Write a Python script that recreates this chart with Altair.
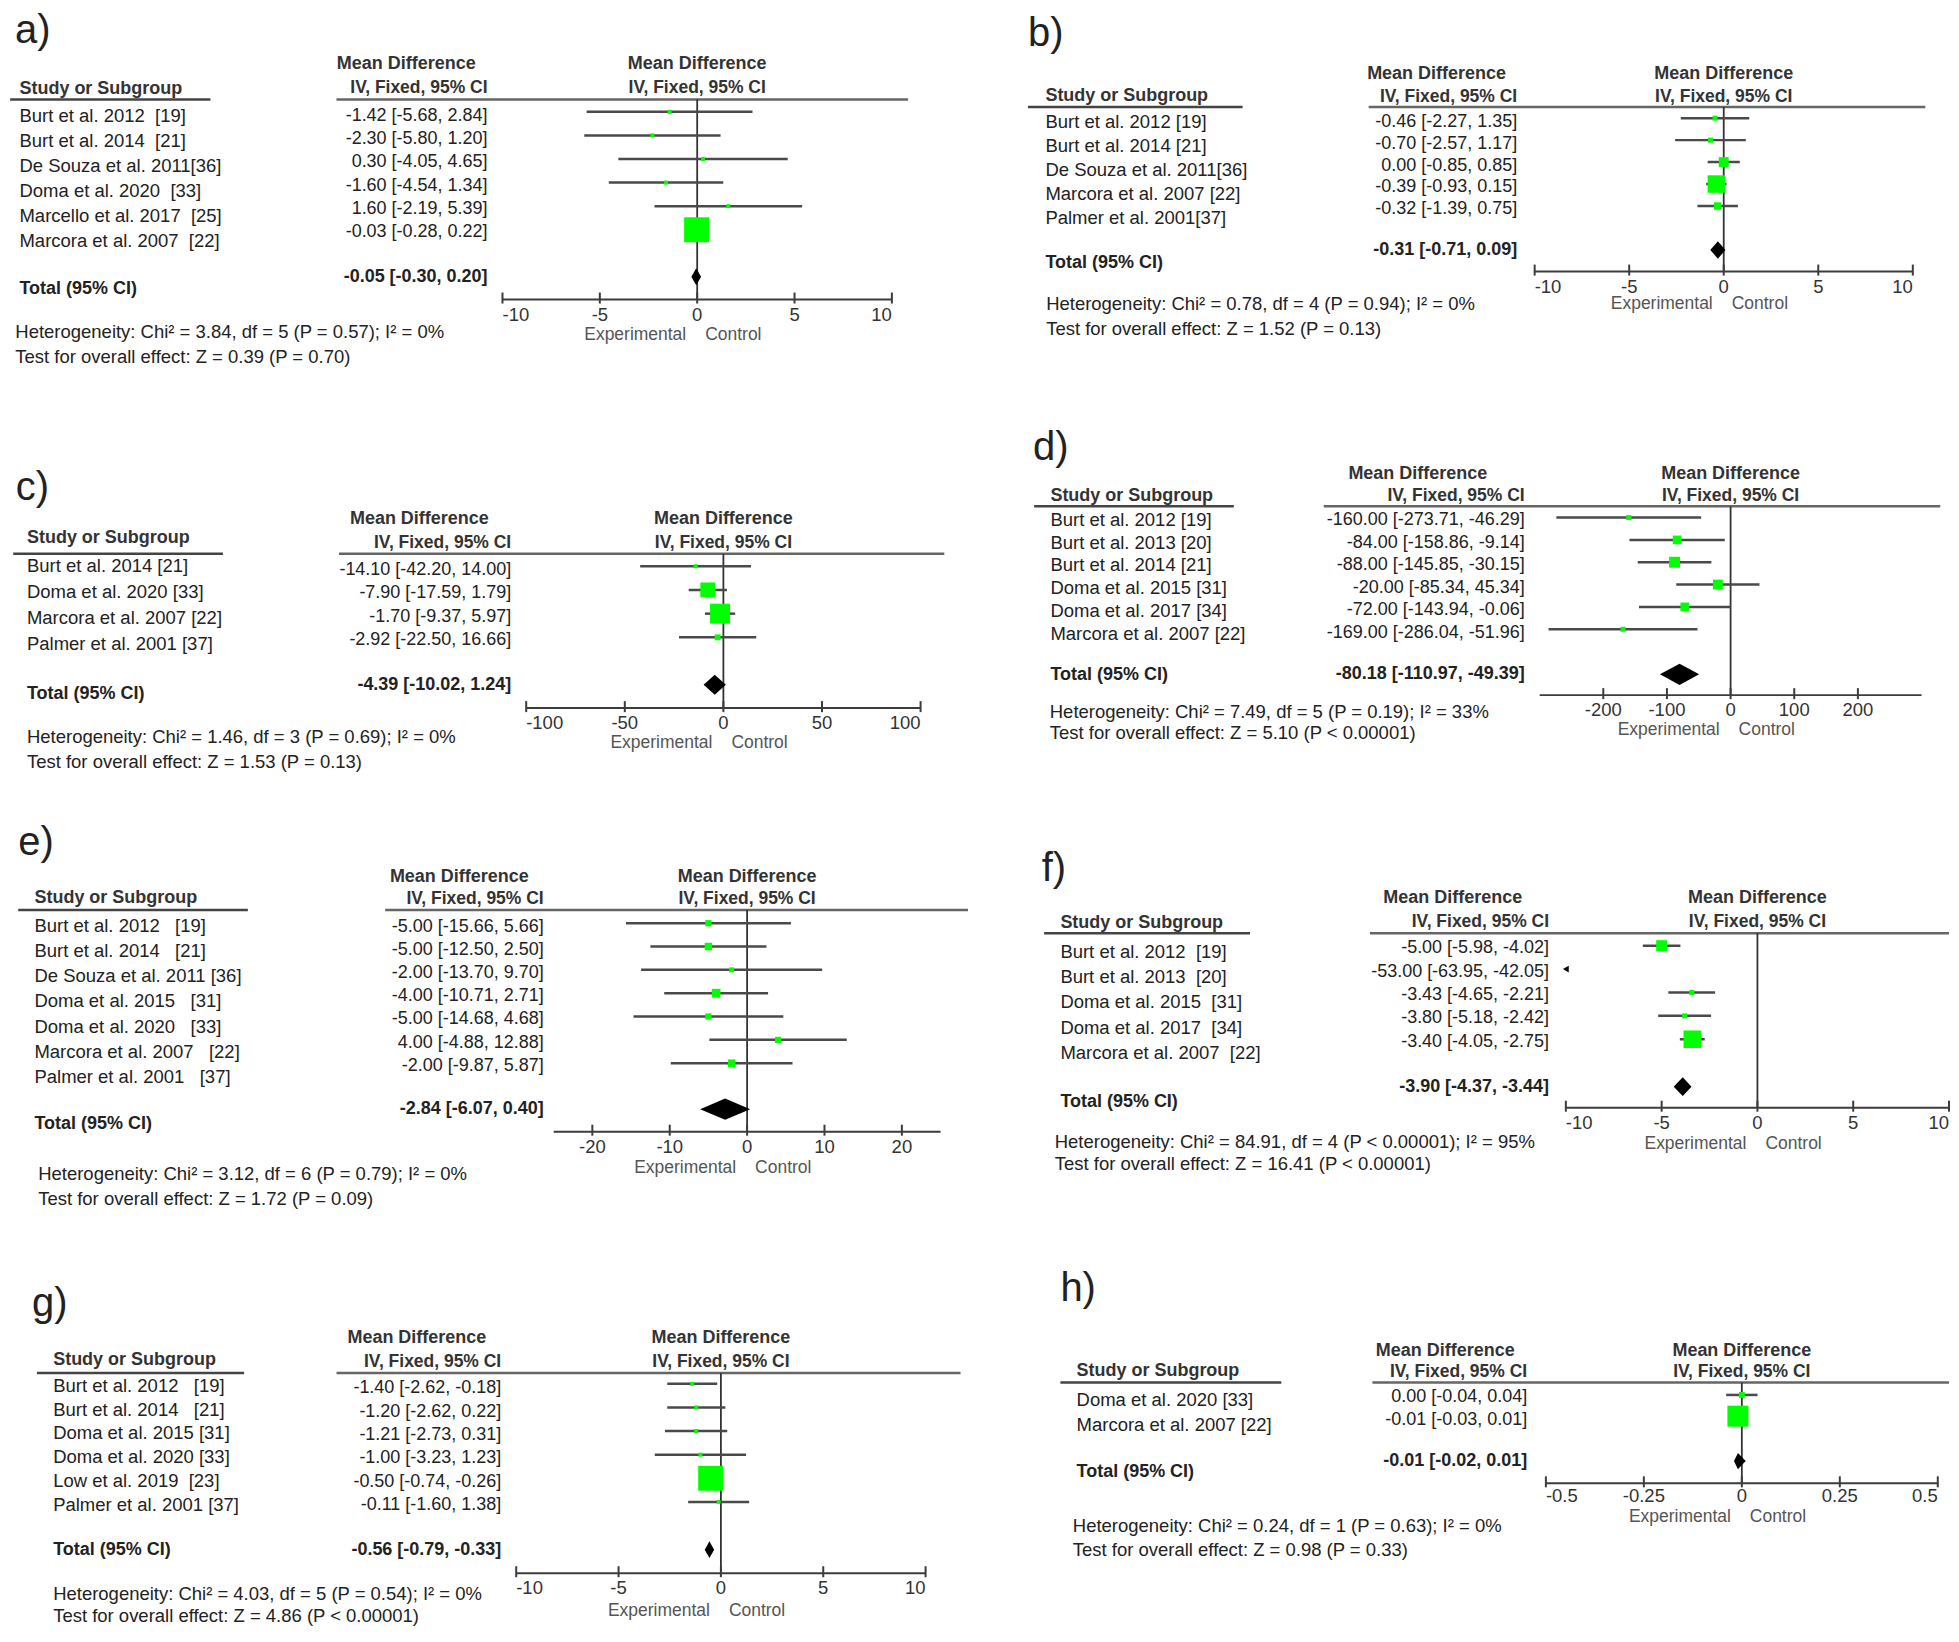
import altair as alt
import pandas as pd

S = 1959 / 1568.0          # reference thumbnail units -> page pixels
FONT = "Liberation Sans, Arial, Helvetica, sans-serif"
TXT = "#222222"
HDR = "#333333"

# ----------------------------- data -----------------------------
a_names = ["Burt et al. 2012  [19]", "Burt et al. 2014  [21]", "De Souza et al. 2011[36]",
           "Doma et al. 2020  [33]", "Marcello et al. 2017  [25]", "Marcora et al. 2007  [22]"]
a_md = [-1.42, -2.30, 0.30, -1.60, 1.60, -0.03]
a_lo = [-5.68, -5.80, -4.05, -4.54, -2.19, -0.28]
a_hi = [2.84, 1.20, 4.65, 1.34, 5.39, 0.22]
a_wt = [2.3, 2.3, 2.3, 2.3, 2.3, 89]
a_total = [-0.05, -0.30, 0.20]
a_het = "Heterogeneity: Chi² = 3.84, df = 5 (P = 0.57); I² = 0%"
a_test = "Test for overall effect: Z = 0.39 (P = 0.70)"
a_ticks = [-10, -5, 0, 5, 10]
a_domain = [-10, 10]

b_names = ["Burt et al. 2012 [19]", "Burt et al. 2014 [21]", "De Souza et al. 2011[36]",
           "Marcora et al. 2007 [22]", "Palmer et al. 2001[37]"]
b_md = [-0.46, -0.70, 0.00, -0.39, -0.32]
b_lo = [-2.27, -2.57, -0.85, -0.93, -1.39]
b_hi = [1.35, 1.17, 0.85, 0.15, 0.75]
b_wt = [3.6, 3.6, 14, 44, 8]
b_total = [-0.31, -0.71, 0.09]
b_het = "Heterogeneity: Chi² = 0.78, df = 4 (P = 0.94); I² = 0%"
b_test = "Test for overall effect: Z = 1.52 (P = 0.13)"
b_ticks = [-10, -5, 0, 5, 10]
b_domain = [-10, 10]

c_names = ["Burt et al. 2014 [21]", "Doma et al. 2020 [33]", "Marcora et al. 2007 [22]",
           "Palmer et al. 2001 [37]"]
c_md = [-14.10, -7.90, -1.70, -2.92]
c_lo = [-42.20, -17.59, -9.37, -22.50]
c_hi = [14.00, 1.79, 5.97, 16.66]
c_wt = [2.3, 32, 57, 5]
c_total = [-4.39, -10.02, 1.24]
c_het = "Heterogeneity: Chi² = 1.46, df = 3 (P = 0.69); I² = 0%"
c_test = "Test for overall effect: Z = 1.53 (P = 0.13)"
c_ticks = [-100, -50, 0, 50, 100]
c_domain = [-100, 100]

d_names = ["Burt et al. 2012 [19]", "Burt et al. 2013 [20]", "Burt et al. 2014 [21]",
           "Doma et al. 2015 [31]", "Doma et al. 2017 [34]", "Marcora et al. 2007 [22]"]
d_md = [-160.00, -84.00, -88.00, -20.00, -72.00, -169.00]
d_lo = [-273.71, -158.86, -145.85, -85.34, -143.94, -286.04]
d_hi = [-46.29, -9.14, -30.15, 45.34, -0.06, -51.96]
d_wt = [3.6, 10.8, 17, 14, 10.8, 3.6]
d_total = [-80.18, -110.97, -49.39]
d_het = "Heterogeneity: Chi² = 7.49, df = 5 (P = 0.19); I² = 33%"
d_test = "Test for overall effect: Z = 5.10 (P < 0.00001)"
d_ticks = [-200, -100, 0, 100, 200]
d_domain = [-300, 300]

e_names = ["Burt et al. 2012   [19]", "Burt et al. 2014   [21]", "De Souza et al. 2011 [36]",
           "Doma et al. 2015   [31]", "Doma et al. 2020   [33]", "Marcora et al. 2007   [22]",
           "Palmer et al. 2001   [37]"]
e_md = [-5.00, -5.00, -2.00, -4.00, -5.00, 4.00, -2.00]
e_lo = [-15.66, -12.50, -13.70, -10.71, -14.68, -4.88, -9.87]
e_hi = [5.66, 2.50, 9.70, 2.71, 4.68, 12.88, 5.87]
e_wt = [5.5, 8, 3.6, 10.8, 5.5, 5.5, 8]
e_total = [-2.84, -6.07, 0.40]
e_het = "Heterogeneity: Chi² = 3.12, df = 6 (P = 0.79); I² = 0%"
e_test = "Test for overall effect: Z = 1.72 (P = 0.09)"
e_ticks = [-20, -10, 0, 10, 20]
e_domain = [-25, 25]

f_names = ["Burt et al. 2012  [19]", "Burt et al. 2013  [20]", "Doma et al. 2015  [31]",
           "Doma et al. 2017  [34]", "Marcora et al. 2007  [22]"]
f_md = [-5.00, -53.00, -3.43, -3.80, -3.40]
f_lo = [-5.98, -63.95, -4.65, -5.18, -4.05]
f_hi = [-4.02, -42.05, -2.21, -2.42, -2.75]
f_wt = [17, 0.2, 3.6, 3.6, 44]
f_total = [-3.90, -4.37, -3.44]
f_het = "Heterogeneity: Chi² = 84.91, df = 4 (P < 0.00001); I² = 95%"
f_test = "Test for overall effect: Z = 16.41 (P < 0.00001)"
f_ticks = [-10, -5, 0, 5, 10]
f_domain = [-10, 10]

g_names = ["Burt et al. 2012   [19]", "Burt et al. 2014   [21]", "Doma et al. 2015 [31]",
           "Doma et al. 2020 [33]", "Low et al. 2019  [23]", "Palmer et al. 2001 [37]"]
g_md = [-1.40, -1.20, -1.21, -1.00, -0.50, -0.11]
g_lo = [-2.62, -2.62, -2.73, -3.23, -0.74, -1.60]
g_hi = [-0.18, 0.22, 0.31, 1.23, -0.26, 1.38]
g_wt = [2.3, 2.3, 2.3, 2.3, 89, 2.0]
g_total = [-0.56, -0.79, -0.33]
g_het = "Heterogeneity: Chi² = 4.03, df = 5 (P = 0.54); I² = 0%"
g_test = "Test for overall effect: Z = 4.86 (P < 0.00001)"
g_ticks = [-10, -5, 0, 5, 10]
g_domain = [-10, 10]

h_names = ["Doma et al. 2020 [33]", "Marcora et al. 2007 [22]"]
h_md = [0.00, -0.01]
h_lo = [-0.04, -0.03]
h_hi = [0.04, 0.01]
h_wt = [5, 63]
h_total = [-0.01, -0.02, 0.01]
h_het = "Heterogeneity: Chi² = 0.24, df = 1 (P = 0.63); I² = 0%"
h_test = "Test for overall effect: Z = 0.98 (P = 0.33)"
h_ticks = [-0.5, -0.25, 0, 0.25, 0.5]
h_domain = [-0.5, 0.5]

PANELS = {
    "a": dict(names=a_names, md=a_md, lo=a_lo, hi=a_hi, w=a_wt, total=a_total, het=a_het, test=a_test, ticks=a_ticks, domain=a_domain),
    "b": dict(names=b_names, md=b_md, lo=b_lo, hi=b_hi, w=b_wt, total=b_total, het=b_het, test=b_test, ticks=b_ticks, domain=b_domain),
    "c": dict(names=c_names, md=c_md, lo=c_lo, hi=c_hi, w=c_wt, total=c_total, het=c_het, test=c_test, ticks=c_ticks, domain=c_domain),
    "d": dict(names=d_names, md=d_md, lo=d_lo, hi=d_hi, w=d_wt, total=d_total, het=d_het, test=d_test, ticks=d_ticks, domain=d_domain),
    "e": dict(names=e_names, md=e_md, lo=e_lo, hi=e_hi, w=e_wt, total=e_total, het=e_het, test=e_test, ticks=e_ticks, domain=e_domain),
    "f": dict(names=f_names, md=f_md, lo=f_lo, hi=f_hi, w=f_wt, total=f_total, het=f_het, test=f_test, ticks=f_ticks, domain=f_domain),
    "g": dict(names=g_names, md=g_md, lo=g_lo, hi=g_hi, w=g_wt, total=g_total, het=g_het, test=g_test, ticks=g_ticks, domain=g_domain),
    "h": dict(names=h_names, md=h_md, lo=h_lo, hi=h_hi, w=h_wt, total=h_total, het=h_het, test=h_test, ticks=h_ticks, domain=h_domain),
}

# ----------------------------- layout (reference thumbnail units) -----------------------------
LAY = {
    "a": dict(lab=(10.5, 24.5), nx=14, vr=389, mdr=379.5, hy=(50.7, 70), sy=70.7, sl=(6.5, 167, 79),
              hl=(268, 726, 79), ci=(88.9, 18.9), val=(92, 18.7), nm=(92.6, 20), tot=(221, 230.8),
              axis=239.3, xr=(401, 713), ec=268, het=(10.7, 265.5, 285), hh=6.8),
    "b": dict(lab=(822, 26.7), nx=836, vr=1214, mdr=1205, hy=(59, 77), sy=76.6, sl=(822, 994, 85),
              hl=(1095, 1541, 85), ci=(94, 17.6), val=(97.4, 17.3), nm=(97.4, 19.2), tot=(199.6, 210),
              axis=216.6, xr=(1228, 1531), ec=243, het=(836.6, 243, 262.8), hh=7),
    "c": dict(lab=(11, 390), nx=20, vr=408, mdr=390, hy=(415, 434), sy=430, sl=(9, 177, 443),
              hl=(270, 755, 443), ci=(453, 19), val=(456, 18.7), nm=(453, 20.7), tot=(548, 555),
              axis=567, xr=(420, 736), ec=595, het=(20, 590, 610), hh=8),
    "d": dict(lab=(826, 358.6), nx=840, vr=1220, mdr=1190, hy=(378.8, 397), sy=396.6, sl=(827, 987, 405),
              hl=(1059, 1553, 405), ci=(414, 17.9), val=(416, 18.1), nm=(416, 18.2), tot=(539.6, 540),
              axis=556.5, xr=(1232, 1538), ec=584, het=(839.5, 569.6, 587), hh=8.5),
    "e": dict(lab=(13, 675), nx=26, vr=434, mdr=422, hy=(701.7, 719.7), sy=719, sl=(13, 197, 728.4),
              hl=(307, 774, 728.4), ci=(739, 18.7), val=(741.7, 18.6), nm=(741, 20.2), tot=(888, 900),
              axis=906, xr=(442, 752), ec=935, het=(29, 940, 960), hh=8.5),
    "f": dict(lab=(833, 696), nx=848, vr=1239.5, mdr=1218, hy=(719, 738), sy=739, sl=(835, 1000, 747),
              hl=(1096, 1560, 747), ci=(757, 18.75), val=(759, 18.75), nm=(762, 20.25), tot=(870, 882),
              axis=887, xr=(1253, 1560), ec=916, het=(843.5, 914, 932), hh=7.5),
    # g is squeezed slightly towards its letter so that its footer fits in the window
    "g": dict(lab=(24, 1044.5), nx=41, vr=400, mdr=388, hy=(1072.5, 1092.5), sy=1090.7, sl=(28, 194, 1102),
              hl=(268, 768, 1102), ci=(1111, 19.8), val=(1114.7, 19.6), nm=(1112.6, 20), tot=(1250, 1250),
              axis=1270, xr=(412, 740), ec=1301, het=(41, 1287, 1306), hh=7, squeeze=(1044.5, 1306, 11.5)),
    "h": dict(lab=(848, 1032), nx=861, vr=1222, mdr=1212, hy=(1082, 1099), sy=1098, sl=(848, 1025, 1107),
              hl=(1098, 1560, 1107), ci=(1117, 17), val=(1119, 18), nm=(1121, 20), tot=(1170, 1179),
              axis=1187.5, xr=(1237, 1551), ec=1215, het=(858, 1222, 1241), hh=6.5, lo=10.5),
}

ORIG_X = [8.0, 1020.0]
W_COL = [1012, 930]
AX = "#3c3c3c"


def ty(L, v):
    """thumbnail y -> page y, with the optional squeeze of a panel"""
    sq = L.get("squeeze")
    if sq:
        y0, y1, amt = sq
        v = v - amt * (v - y0) / (y1 - y0)
    return v * S


def fmt(m, a, b):
    return f"{m:.2f} [{a:.2f}, {b:.2f}]"


def text_at(s, x, y, align="left", size=18.5, weight="normal", color=TXT):
    return alt.Chart(pd.DataFrame({"t": [s]})).mark_text(
        align=align, baseline="middle", font=FONT, fontSize=size, fontWeight=weight, color=color
    ).encode(x=alt.value(x), y=alt.value(y), text="t:N")


def hrule(x1, x2, y, color, width):
    return alt.Chart(pd.DataFrame({"k": [0]})).mark_rule(color=color, strokeWidth=width).encode(
        x=alt.value(x1), x2=alt.value(x2), y=alt.value(y))


def build(key, ox, oy, W, H):
    P, L = PANELS[key], LAY[key]

    def X(v):
        return v * S - ox

    def Y(v):
        return ty(L, v) - oy

    n = len(P["names"])
    df = pd.DataFrame({"row": list(range(n)),
                       "name": [s.replace(" ", "\u00a0") for s in P["names"]],
                       "md": P["md"], "lo": P["lo"], "hi": P["hi"], "w": P["w"]})
    df["label"] = [fmt(m, a, b) for m, a, b in zip(P["md"], P["lo"], P["hi"])]
    d0, d1 = P["domain"]
    xs = alt.Scale(domain=[d0, d1], range=[X(L["xr"][0]), X(L["xr"][1])], zero=False, nice=False, clamp=True)

    def ys(k):
        f, sp = L[k]
        return alt.Scale(domain=[0, 1], range=[Y(f), Y(f + sp)], zero=False, nice=False)

    inr = df[(df.hi >= d0) & (df.lo <= d1)]
    off = df[df.hi < d0]

    zdf = pd.DataFrame({"z": [0], "t1": ["Experimental"], "t2": ["Control"],
                        "h1": ["Mean Difference"], "h2": ["IV, Fixed, 95% CI"]})
    zx = alt.X("z:Q", scale=xs, axis=None)

    layers = []
    # panel letter and header block
    layers.append(text_at(key + ")", X(L["lab"][0]), Y(L["lab"][1]), size=40, color="#222222"))
    layers.append(text_at("Study or Subgroup", X(L["nx"]), Y(L["sy"]), size=18, weight="bold", color=HDR))
    layers.append(hrule(X(L["sl"][0]), X(L["sl"][1]), Y(L["sl"][2]), "#444444", 2.5))
    layers.append(text_at("Mean Difference", X(L["mdr"]), Y(L["hy"][0]), align="right", size=18, weight="bold", color=HDR))
    layers.append(text_at("IV, Fixed, 95% CI", X(L["vr"]), Y(L["hy"][1]), align="right", size=17.5, weight="bold", color=HDR))
    layers.append(hrule(X(L["hl"][0]), X(L["hl"][1]), Y(L["hl"][2]), "#666666", 2.5))
    layers.append(alt.Chart(zdf).mark_text(align="center", baseline="middle", font=FONT, fontSize=18,
                                           fontWeight="bold", color=HDR)
                  .encode(x=zx, y=alt.value(Y(L["hy"][0])), text="h1:N"))
    layers.append(alt.Chart(zdf).mark_text(align="center", baseline="middle", font=FONT, fontSize=17.5,
                                           fontWeight="bold", color=HDR)
                  .encode(x=zx, y=alt.value(Y(L["hy"][1])), text="h2:N"))
    # line of no effect
    layers.append(alt.Chart(zdf).mark_rule(color="#333333", strokeWidth=1.8)
                  .encode(x=zx, y=alt.value(Y(L["hl"][2])), y2=alt.value(H)))
    # study rows
    layers.append(alt.Chart(df).mark_text(align="left", baseline="middle", font=FONT, fontSize=18.5, color=TXT)
                  .encode(x=alt.value(X(L["nx"])), y=alt.Y("row:Q", scale=ys("nm"), axis=None), text="name:N"))
    layers.append(alt.Chart(df).mark_text(align="right", baseline="middle", font=FONT, fontSize=18, color=TXT)
                  .encode(x=alt.value(X(L["vr"])), y=alt.Y("row:Q", scale=ys("val"), axis=None), text="label:N"))
    layers.append(alt.Chart(inr).mark_rule(color="#4a4a4a", strokeWidth=2.5)
                  .encode(x=alt.X("lo:Q", scale=xs, axis=None), x2="hi:Q",
                          y=alt.Y("row:Q", scale=ys("ci"), axis=None)))
    layers.append(alt.Chart(inr).mark_square(color="#00ff00", opacity=1, filled=True)
                  .encode(x=alt.X("md:Q", scale=xs, axis=None), y=alt.Y("row:Q", scale=ys("ci"), axis=None),
                          size=alt.Size("w:Q", scale=alt.Scale(domain=[0, 100], range=[0, 700]), legend=None)))
    if len(off):
        layers.append(alt.Chart(off).mark_point(shape="triangle-left", filled=True, color="black", opacity=1, size=45)
                      .encode(x=alt.X("hi:Q", scale=xs, axis=None), y=alt.Y("row:Q", scale=ys("ci"), axis=None)))
    # total row
    tm, tl, th = P["total"]
    t = (L["tot"][0] - L["ci"][0]) / L["ci"][1]
    hu = L["hh"] / L["ci"][1]
    ddf = pd.DataFrame({"x": [tl, tm, th], "y": [t, t - hu, t], "y2": [t, t + hu, t]})
    layers.append(alt.Chart(ddf).mark_area(color="black", opacity=1)
                  .encode(x=alt.X("x:Q", scale=xs, axis=None), y=alt.Y("y:Q", scale=ys("ci"), axis=None), y2="y2:Q"))
    layers.append(text_at("Total (95% CI)", X(L["nx"]), Y(L["tot"][1]), size=18, weight="bold"))
    layers.append(text_at(fmt(tm, tl, th), X(L["vr"]), Y(L["tot"][0]), align="right", size=18, weight="bold"))
    # effect axis: line, ticks, labels (all positioned by the x scale)
    layers.append(alt.Chart(pd.DataFrame({"a": [d0], "b": [d1]})).mark_rule(color=AX, strokeWidth=2)
                  .encode(x=alt.X("a:Q", scale=xs, axis=None), x2="b:Q", y=alt.value(H)))
    tdf = pd.DataFrame({"t": P["ticks"], "lab": [f"{v:g}" for v in P["ticks"]]})
    layers.append(alt.Chart(tdf).mark_rule(color=AX, strokeWidth=2)
                  .encode(x=alt.X("t:Q", scale=xs, axis=None), y=alt.value(H - 7), y2=alt.value(H + 4)))
    lab_y = H + L.get("lo", 12.0) * S
    parts = [(tdf[tdf.t == d0], "left"), (tdf[(tdf.t != d0) & (tdf.t != d1)], "center"), (tdf[tdf.t == d1], "right")]
    for part, al in parts:
        if len(part):
            layers.append(alt.Chart(part).mark_text(align=al, baseline="middle", font=FONT, fontSize=18.5, color="#333333")
                          .encode(x=alt.X("t:Q", scale=xs, axis=None), y=alt.value(lab_y), text="lab:N"))
    layers.append(alt.Chart(zdf).mark_text(align="right", baseline="middle", dx=-11, font=FONT, fontSize=17.5, color="#555555")
                  .encode(x=zx, y=alt.value(Y(L["ec"])), text="t1:N"))
    layers.append(alt.Chart(zdf).mark_text(align="left", baseline="middle", dx=8, font=FONT, fontSize=17.5, color="#555555")
                  .encode(x=zx, y=alt.value(Y(L["ec"])), text="t2:N"))
    # footer statistics
    layers.append(text_at(P["het"], X(L["het"][0]), Y(L["het"][1])))
    layers.append(text_at(P["test"], X(L["het"][0]), Y(L["het"][2])))

    return alt.layer(*layers).resolve_scale(y="independent").properties(width=W, height=H)


order = ["a", "b", "c", "d", "e", "f", "g", "h"]
charts = []
top = 8.0
for r in range(4):
    kl, kr = order[2 * r], order[2 * r + 1]
    Hl = int(round(ty(LAY[kl], LAY[kl]["axis"]) - top))
    Hr = int(round(ty(LAY[kr], LAY[kr]["axis"]) - top))
    charts.append(build(kl, ORIG_X[0], top, W_COL[0], Hl))
    charts.append(build(kr, ORIG_X[1], top, W_COL[1], Hr))
    top += max(Hl, Hr)

chart = alt.concat(*charts, columns=2, spacing=0, bounds="flush", padding=0).configure_view(stroke=None)
chart.save("out.html", embed_options={"renderer": "svg", "actions": False})
